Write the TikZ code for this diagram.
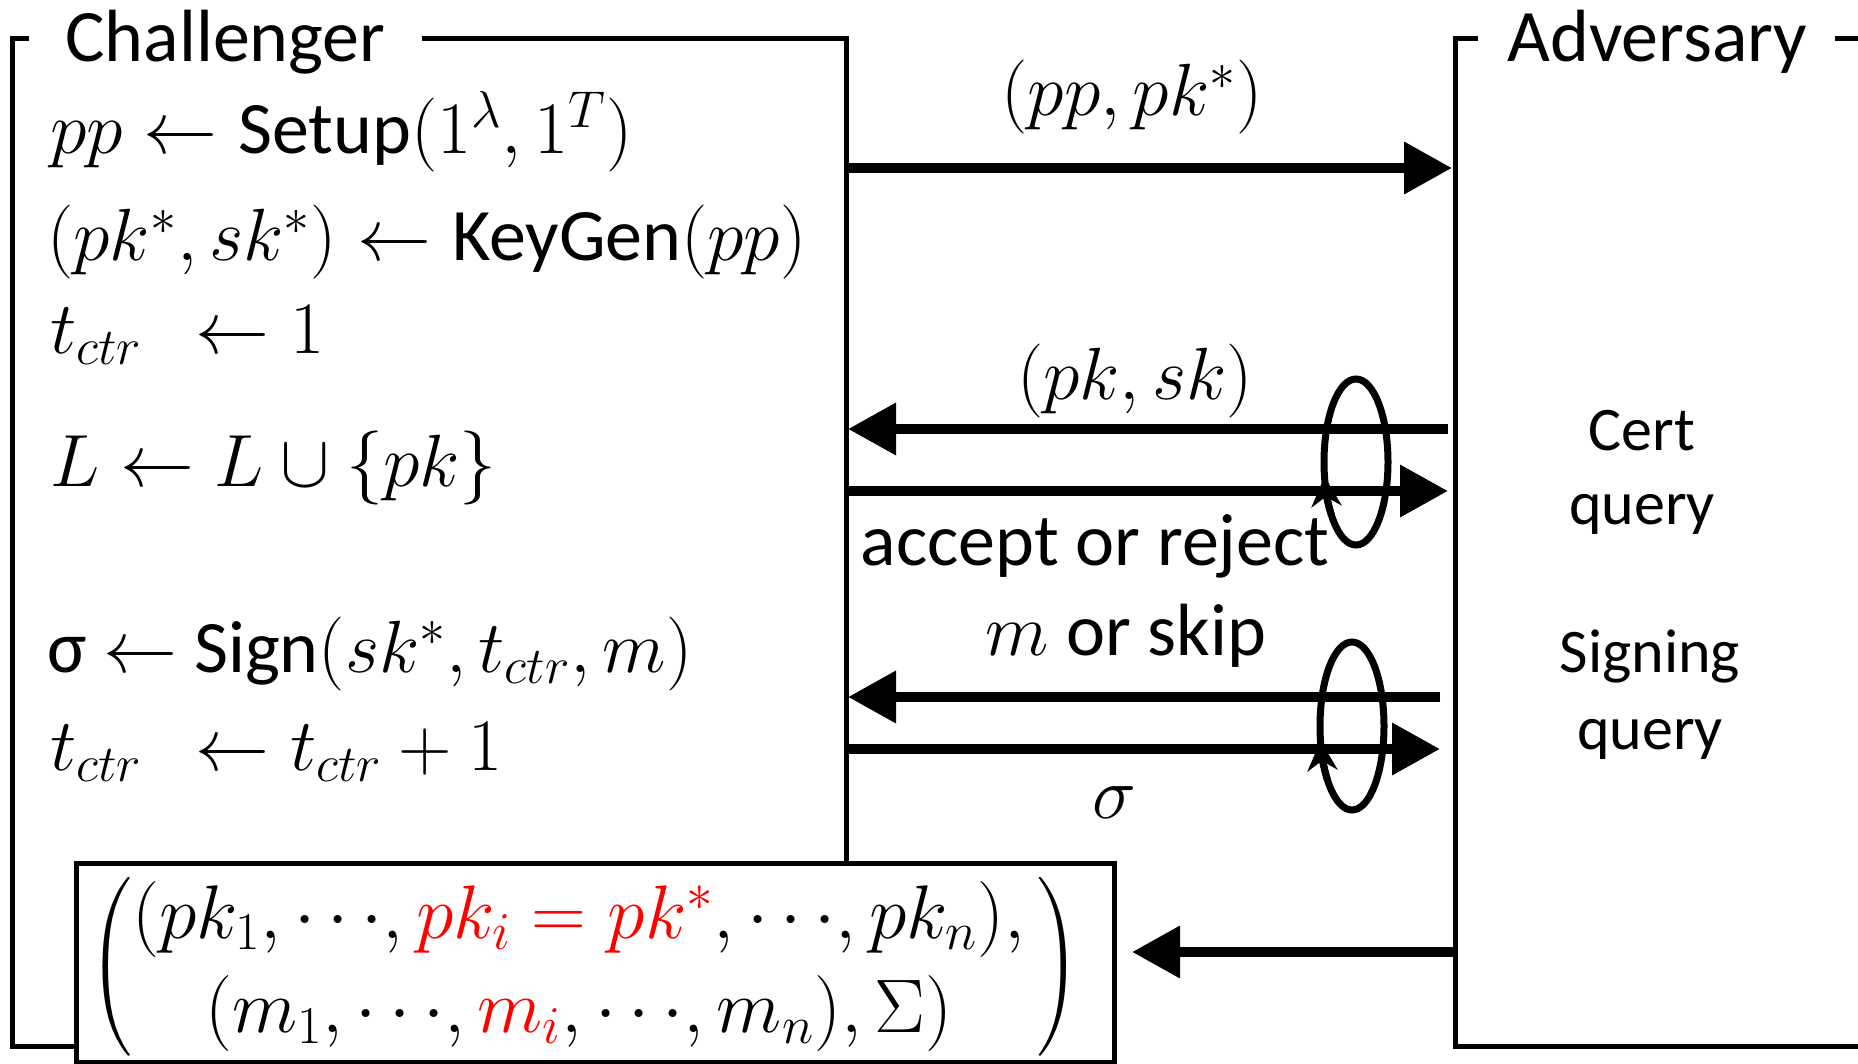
\RequirePackage{fix-cm}
\documentclass[tikz,border=0pt]{standalone}
\usepackage{amsmath}
\usepackage{fontspec}
\setmainfont{Carlito}
\usetikzlibrary{arrows.meta}
\definecolor{hl}{RGB}{255,0,0}
\newcommand{\dts}{\mathord{\cdots}}
\begin{document}
\begin{tikzpicture}[x=0.5pt,y=-0.5pt,
  frame/.style={line width=2.5pt,line join=miter,line cap=rect},
  msg/.style={line width=5pt,-{Triangle[length=24pt,width=25pt]}},
  loopst/.style={line width=3.5pt},
  looptip/.style={line width=3.5pt,-{Stealth[length=15pt,width=15pt]}},
  big/.style={font=\fontsize{37}{44}\selectfont,inner sep=0pt},
  qry/.style={font=\fontsize{31}{37}\selectfont,inner sep=0pt},
  line/.style={big,anchor=base west}]
\useasboundingbox (0,0) rectangle (1858,1064);
% frames
\coordinate (chTL) at (12,39);
\coordinate (chTR) at (846,39);
\coordinate (chBR) at (846,863);
\coordinate (chBL) at (12,1046);
\coordinate (adTL) at (1455,39);
\coordinate (adBL) at (1455,1046);
\draw[frame] (424,39) -- (chTR) -- (chBR);
\draw[frame] (26,39) -- (chTL) -- (chBL) -- (76,1046);
\draw[frame] (1475,39) -- (adTL) -- (adBL) -- (1858,1046);
\draw[frame] (1837,39) -- (1858,39);
\node[big,anchor=base west] (chal) at (65,62) {Challenger};
\node[big,anchor=base west] (adv) at (1507,62) {Adversary};
% challenger lines
\node[line] (l1) at (50,154) {$pp \leftarrow \text{Setup}(1^{\lambda}, 1^{T})$};
\node[line] (l2) at (47,261) {$(pk^{*}, sk^{*}) \leftarrow \text{KeyGen}(pp)$};
\node[line] (l3) at (50,353) {$t_{ctr}\ \ \leftarrow 1$};
\node[line] (l4) at (50,486) {$L \leftarrow L \cup \{pk\}$};
\node[line] (l5) at (47,672) {σ $\leftarrow$ Sign$(sk^{*}, t_{ctr}, m)$};
\node[line] (l6) at (50,770) {$t_{ctr}\ \ \leftarrow t_{ctr} + 1$};
% messages
\coordinate (a1s) at (846,168); \coordinate (a1e) at (1452,168);
\coordinate (a2s) at (1448,429); \coordinate (a2e) at (848,429);
\coordinate (a3s) at (846,491); \coordinate (a3e) at (1448,491);
\coordinate (a4s) at (1440,697); \coordinate (a4e) at (848,697);
\coordinate (a5s) at (846,749); \coordinate (a5e) at (1440,749);
\coordinate (a6s) at (1455,952); \coordinate (a6e) at (1132,952);
\draw[msg] (a1s) -- (a1e);
\draw[msg] (a2s) -- (a2e);
\draw[msg] (a3s) -- (a3e);
\draw[msg] (a4s) -- (a4e);
\draw[msg] (a5s) -- (a5e);
\draw[msg] (a6s) -- (a6e);
\node[big,anchor=base] (m1) at (1132,116) {$(pp, pk^{*})$};
\node[big,anchor=base] (m2) at (1135,399) {$(pk, sk)$};
\node[big,anchor=base] (m3) at (1095,565) {accept or reject};
\node[big,anchor=base] (m4) at (1126,655) {$m$ or skip};
\node[big,anchor=base] (m5) at (1114,818) {$\sigma$};
% loops
\coordinate (e1) at (1356,462);
\coordinate (e2) at (1352,726);
\draw[loopst] (e1) ellipse [x radius=32, y radius=83];
\draw[loopst] (e2) ellipse [x radius=32, y radius=84];
\draw[looptip] ([shift={(e1)}]140:32 and 83) arc[start angle=140,end angle=170,x radius=32,y radius=83];
\draw[looptip] ([shift={(e2)}]140:32 and 84) arc[start angle=140,end angle=170,x radius=32,y radius=84];
% query labels
\node[qry,anchor=base] (q1) at (1642,450) {Cert};
\node[qry,anchor=base] (q2) at (1642,524) {query};
\node[qry,anchor=base] (q3) at (1650,672) {Signing};
\node[qry,anchor=base] (q4) at (1650,749) {query};
% output box
\draw[frame,fill=white] (76,863) rectangle (1114,1062);
\node[big,font=\fontsize{38}{45}\selectfont] (out) at (585,967) {$\left(\begin{array}{@{}c@{\,}}
  (pk_{1}, \dts, \textcolor{hl}{pk_{i} = pk^{*}}, \dts, pk_{n}),\\[2pt]
  (m_{1}, \dts, \textcolor{hl}{m_{i}}, \dts, m_{n}), \Sigma)
  \end{array}\right)$};
\end{tikzpicture}
\end{document}
